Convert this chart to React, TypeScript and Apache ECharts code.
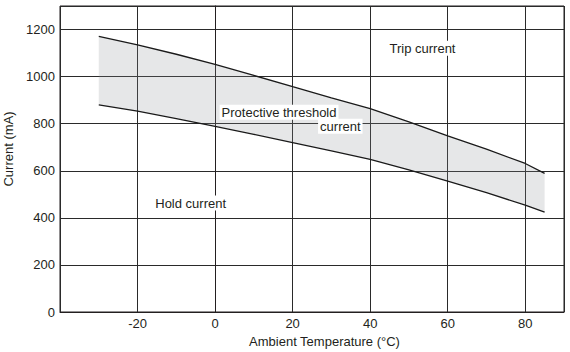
import React, { useEffect, useRef } from "react";
import * as echarts from "echarts";

const temps = [-30, -20, -10, 0, 10, 20, 30, 40, 50, 60, 70, 80, 85];
const tripCurrent = [1171, 1135, 1095, 1052, 1005, 957, 910, 864, 808, 748, 692, 631, 589];
const holdCurrent = [880, 853, 822, 789, 755, 720, 685, 648, 604, 556, 507, 454, 424];

const annotations = [
  { text: "Trip current", t: 53.5, c: 1120 },
  { text: "Hold current", t: -6.3, c: 463 },
  { text: "Protective threshold", t: 16.5, c: 849 },
  { text: "current", t: 32.3, c: 789 },
];

const FONT = "'Liberation Sans', Arial, Helvetica, sans-serif";
const TEXT = "#231f20";

export default function App() {
  const ref = useRef<HTMLDivElement>(null);
  useEffect(() => {
    document.body.style.margin = "0";
    if (!ref.current) return;
    const chart = echarts.init(ref.current, undefined, { renderer: "svg" });
    const lowerData = temps.map((t, i) => [t, holdCurrent[i]]);
    const upperData = temps.map((t, i) => [t, tripCurrent[i]]);
    chart.setOption({
      animation: false,
      backgroundColor: "#fff",
      textStyle: { fontFamily: FONT },
      grid: {
        left: 60,
        right: 6,
        top: 6,
        bottom: 40,
        show: true,
        borderColor: "#231f20",
        borderWidth: 1,
        containLabel: false,
        outerBoundsMode: "none",
      },
      xAxis: {
        type: "value",
        min: -40,
        max: 90,
        interval: 20,
        name: "Ambient Temperature (°C)",
        nameLocation: "middle",
        nameGap: 23,
        nameTextStyle: { color: TEXT, fontSize: 13, fontFamily: FONT, padding: [0, 0, 0, 25] },
        axisLine: { show: true, lineStyle: { color: "#231f20", width: 1 } },
        axisTick: { show: false },
        axisLabel: {
          color: TEXT,
          fontSize: 13,
          fontFamily: FONT,
          margin: 5,
          showMinLabel: false,
          showMaxLabel: false,
          formatter: (v: number) => String(v),
        },
        splitLine: { show: true, lineStyle: { color: "#2a2a2a", width: 1 } },
      },
      yAxis: {
        type: "value",
        min: 0,
        max: 1300,
        interval: 200,
        name: "Current (mA)",
        nameLocation: "middle",
        nameGap: 41,
        nameTextStyle: { color: TEXT, fontSize: 13, fontFamily: FONT, padding: [0, 0, 0, 20] },
        axisLine: { show: true, lineStyle: { color: "#231f20", width: 1 } },
        axisTick: { show: false },
        axisLabel: {
          color: TEXT,
          fontSize: 13,
          fontFamily: FONT,
          margin: 5,
          showMaxLabel: false,
          formatter: (v: number) => String(v),
        },
        splitLine: { show: true, lineStyle: { color: "#2a2a2a", width: 1 } },
      },
      series: [
        {
          type: "custom",
          name: "Band",
          data: [[temps[0], holdCurrent[0]]],
          z: 2,
          silent: true,
          renderItem: (_params: any, api: any) => {
            const pts: number[][] = [];
            for (let i = 0; i < temps.length; i++) pts.push(api.coord([temps[i], tripCurrent[i]]));
            for (let i = temps.length - 1; i >= 0; i--) pts.push(api.coord([temps[i], holdCurrent[i]]));
            return {
              type: "polygon",
              shape: { points: pts },
              style: { fill: "rgba(140,146,152,0.22)", stroke: "none" },
            };
          },
        },
        {
          type: "line",
          name: "Hold",
          data: lowerData,
          symbol: "none",
          lineStyle: { color: "#1a1a1a", width: 1.3 },
          z: 3,
        },
        {
          type: "line",
          name: "Trip",
          data: upperData,
          symbol: "none",
          lineStyle: { color: "#1a1a1a", width: 1.3 },
          z: 3,
          markPoint: {
            symbol: "rect",
            symbolSize: 1,
            itemStyle: { color: "rgba(0,0,0,0)" },
            label: {
              show: true,
              position: "inside",
              color: TEXT,
              fontSize: 13,
              fontFamily: FONT,
              backgroundColor: "#fff",
              padding: [1, 2, 1, 2],
              formatter: (p: any) => p.name,
            },
            data: annotations.map((a) => ({ name: a.text, coord: [a.t, a.c] })),
          },
        },
      ],
    });
    return () => chart.dispose();
  }, []);
  return <div ref={ref} style={{ width: 570, height: 352 }} />;
}
